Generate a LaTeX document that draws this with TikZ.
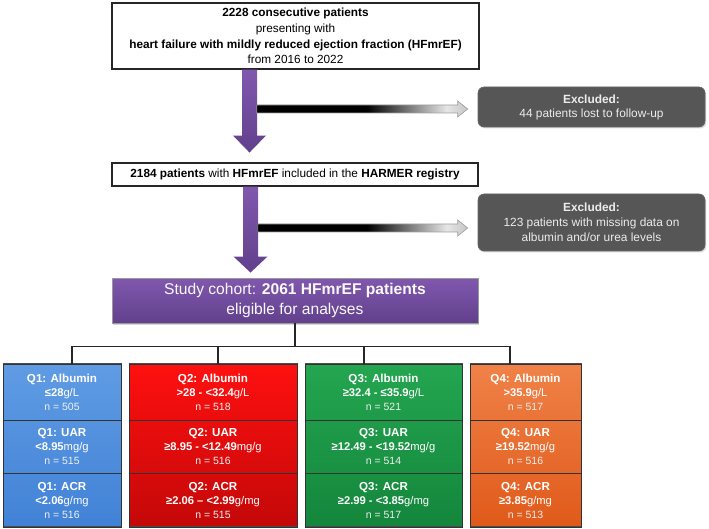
\documentclass[tikz,border=0pt]{standalone}
\usepackage{fontspec}
\setmainfont{Liberation Sans}
\usetikzlibrary{calc,shadows}

\definecolor{purpleA}{RGB}{128,88,174}
\definecolor{purpleB}{RGB}{98,64,140}
\definecolor{exclgray}{RGB}{86,86,86}
\definecolor{exclText}{RGB}{236,236,236}
\definecolor{qoneA}{RGB}{96,156,228}
\definecolor{qoneB}{RGB}{66,130,214}
\definecolor{qtwoA}{RGB}{255,16,16}
\definecolor{qtwoB}{RGB}{196,8,8}
\definecolor{qthreeA}{RGB}{36,166,80}
\definecolor{qthreeB}{RGB}{20,134,60}
\definecolor{qfourA}{RGB}{240,130,72}
\definecolor{qfourB}{RGB}{224,90,26}

% black bar fading to pale grey towards the arrow head
\pgfdeclarehorizontalshading{fadebar}{100bp}{color(0bp)=(black); color(25bp)=(black); color(51bp)=(black); color(70bp)=(gray!20); color(75bp)=(gray!45); color(100bp)=(gray!45)}

\newcommand\qcelltext[3]{{\fontsize{11.6}{14}\selectfont\textbf{#1}}\\#2\\{\fontsize{10.5}{14}\selectfont\color{white!88!gray}#3}}

\tikzset{
  whitebox/.style={draw=black!85, line width=1.1pt, fill=white, inner sep=0pt,
    align=center, text=black},
  exclbox/.style={draw=black!60, line width=0.6pt, fill=exclgray, rounded corners=6pt,
    inner sep=0pt, align=center, text=exclText,
    drop shadow={shadow xshift=1.2pt, shadow yshift=-1.5pt, opacity=0.3},
    font=\fontsize{11.9}{15}\selectfont},
  cohortbox/.style={draw=black!40, line width=0.5pt, top color=purpleA, bottom color=purpleB,
    inner sep=0pt, align=center, text=white!95!gray,
    drop shadow={shadow xshift=1.2pt, shadow yshift=-1.5pt, opacity=0.3},
    font=\fontsize{15.6}{19.5}\selectfont},
  purplearrow/.style={top color=purpleA, bottom color=purpleB, draw=none},
  fadearrow/.style={shading=fadebar, draw=gray!75, line width=0.6pt},
  qcol/.style={draw=black!70, line width=0.8pt,
    drop shadow={shadow xshift=1pt, shadow yshift=-1.2pt, opacity=0.25}},
  qcell/.style={draw=black!80, line width=0.9pt, inner sep=0pt, align=center,
    text=white, font=\fontsize{11.2}{14}\selectfont},
  treeline/.style={draw=black!85, line width=1.1pt},
}

\begin{document}
\begin{tikzpicture}[x=1pt,y=1pt]
\useasboundingbox (0,0) rectangle (709,-529);

% ---- flow boxes
\node[whitebox, font=\fontsize{11.8}{15.6}\selectfont, minimum width=367pt, minimum height=66pt]
  (cons) at (295.5,-36)
  {\textbf{2228 consecutive patients}\\presenting with\\
   \textbf{heart failure with mildly reduced ejection fraction (HFmrEF)}\\from 2016 to 2022};

\node[whitebox, font=\fontsize{11.8}{14}\selectfont, minimum width=366pt, minimum height=23pt]
  (reg) at (295,-174.5)
  {\textbf{2184 patients} with \textbf{HFmrEF} included in the \textbf{HARMER registry}};

\node[cohortbox, minimum width=366pt, minimum height=45pt] (cohort) at (295,-300.5)
  {Study cohort: \textbf{2061 HFmrEF patients}\\eligible for analyses};

\node[exclbox, minimum width=227pt, minimum height=40pt] (excl1) at (591.5,-107)
  {\textbf{Excluded:}\\[-1pt]44 patients lost to follow-up};

\node[exclbox, minimum width=227pt, minimum height=57pt] (excl2) at (591.5,-222.5)
  {\textbf{Excluded:}\\123 patients with missing data on\\albumin and/or urea levels};

% ---- purple block arrows
\path[purplearrow] ($(cons.south)+(-53.5,0)$) -- ++(0,-66) -- ++(-9,0) -- ++(16.5,-17)
  -- ++(16.5,17) -- ++(-9,0) -- ++(0,66) -- cycle;
\path[purplearrow] ($(reg.south)+(-52,0)$) -- ++(0,-70) -- ++(-9.5,0) -- ++(17,-16)
  -- ++(17,16) -- ++(-9.5,0) -- ++(0,70) -- cycle;

% ---- fading exclusion arrows
\coordinate (tip1) at ($(excl1.west)+(-10,-2)$);
\path[fadearrow] (tip1) -- ++(-10,8) -- ++(0,-4) -- ++(-201,0) -- ++(0,-8)
  -- ++(201,0) -- ++(0,-4) -- cycle;
\coordinate (tip2) at ($(excl2.west)+(-10,-5.5)$);
\path[fadearrow] (tip2) -- ++(-10,8) -- ++(0,-4) -- ++(-200,0) -- ++(0,-8)
  -- ++(200,0) -- ++(0,-4) -- cycle;

% ---- quartile columns (shaded backgrounds)
\path[qcol, top color=qoneA, bottom color=qoneB] (3,-363) rectangle (121,-526);
\path[qcol, top color=qtwoA, bottom color=qtwoB] (129,-363) rectangle (297,-526);
\path[qcol, top color=qthreeA, bottom color=qthreeB] (305,-363) rectangle (462,-526);
\path[qcol, top color=qfourA, bottom color=qfourB] (470,-363) rectangle (581,-526);

% Q1
\node[qcell, minimum width=118pt, minimum height=56pt] (q1a) at (62,-392)
  {\qcelltext{Q1: Albumin}{\textbf{≤28}g/L}{n = 505}};
\node[qcell, minimum width=118pt, minimum height=53pt] (q1b) at (62,-446.5)
  {\qcelltext{Q1: UAR}{\textbf{<8.95}mg/g}{n = 515}};
\node[qcell, minimum width=118pt, minimum height=54pt] (q1c) at (62,-500)
  {\qcelltext{Q1: ACR}{\textbf{<2.06}g/mg}{n = 516}};
% Q2
\node[qcell, minimum width=168pt, minimum height=56pt] (q2a) at (213,-392)
  {\qcelltext{Q2: Albumin}{\textbf{>28 - <32.4}g/L}{n = 518}};
\node[qcell, minimum width=168pt, minimum height=53pt] (q2b) at (213,-446.5)
  {\qcelltext{Q2: UAR}{\textbf{≥8.95 - <12.49}mg/g}{n = 516}};
\node[qcell, minimum width=168pt, minimum height=54pt] (q2c) at (213,-500)
  {\qcelltext{Q2: ACR}{\textbf{≥2.06 – <2.99}g/mg}{n = 515}};
% Q3
\node[qcell, minimum width=157pt, minimum height=56pt] (q3a) at (383.5,-392)
  {\qcelltext{Q3: Albumin}{\textbf{≥32.4 - ≤35.9}g/L}{n = 521}};
\node[qcell, minimum width=157pt, minimum height=53pt] (q3b) at (383.5,-446.5)
  {\qcelltext{Q3: UAR}{\textbf{≥12.49 - <19.52}mg/g}{n = 514}};
\node[qcell, minimum width=157pt, minimum height=54pt] (q3c) at (383.5,-500)
  {\qcelltext{Q3: ACR}{\textbf{≥2.99 - <3.85}g/mg}{n = 517}};
% Q4
\node[qcell, minimum width=111pt, minimum height=56pt] (q4a) at (525.5,-392)
  {\qcelltext{Q4: Albumin}{\textbf{>35.9}g/L}{n = 517}};
\node[qcell, minimum width=111pt, minimum height=53pt] (q4b) at (525.5,-446.5)
  {\qcelltext{Q4: UAR}{\textbf{≥19.52}mg/g}{n = 516}};
\node[qcell, minimum width=111pt, minimum height=54pt] (q4c) at (525.5,-500)
  {\qcelltext{Q4: ACR}{\textbf{≥3.85}g/mg}{n = 513}};

% ---- tree connectors
\draw[treeline] (cohort.south) -- ++(0,-23) coordinate (hub);
\draw[treeline] ($(q1a.north)+(10,0)$) |- (hub);
\draw[treeline] ($(q2a.north)+(5,0)$) |- (hub);
\draw[treeline] ($(q3a.north)+(-19.5,0)$) |- (hub);
\draw[treeline] ($(q4a.north)+(-15.5,0)$) |- (hub);
\end{tikzpicture}
\end{document}
